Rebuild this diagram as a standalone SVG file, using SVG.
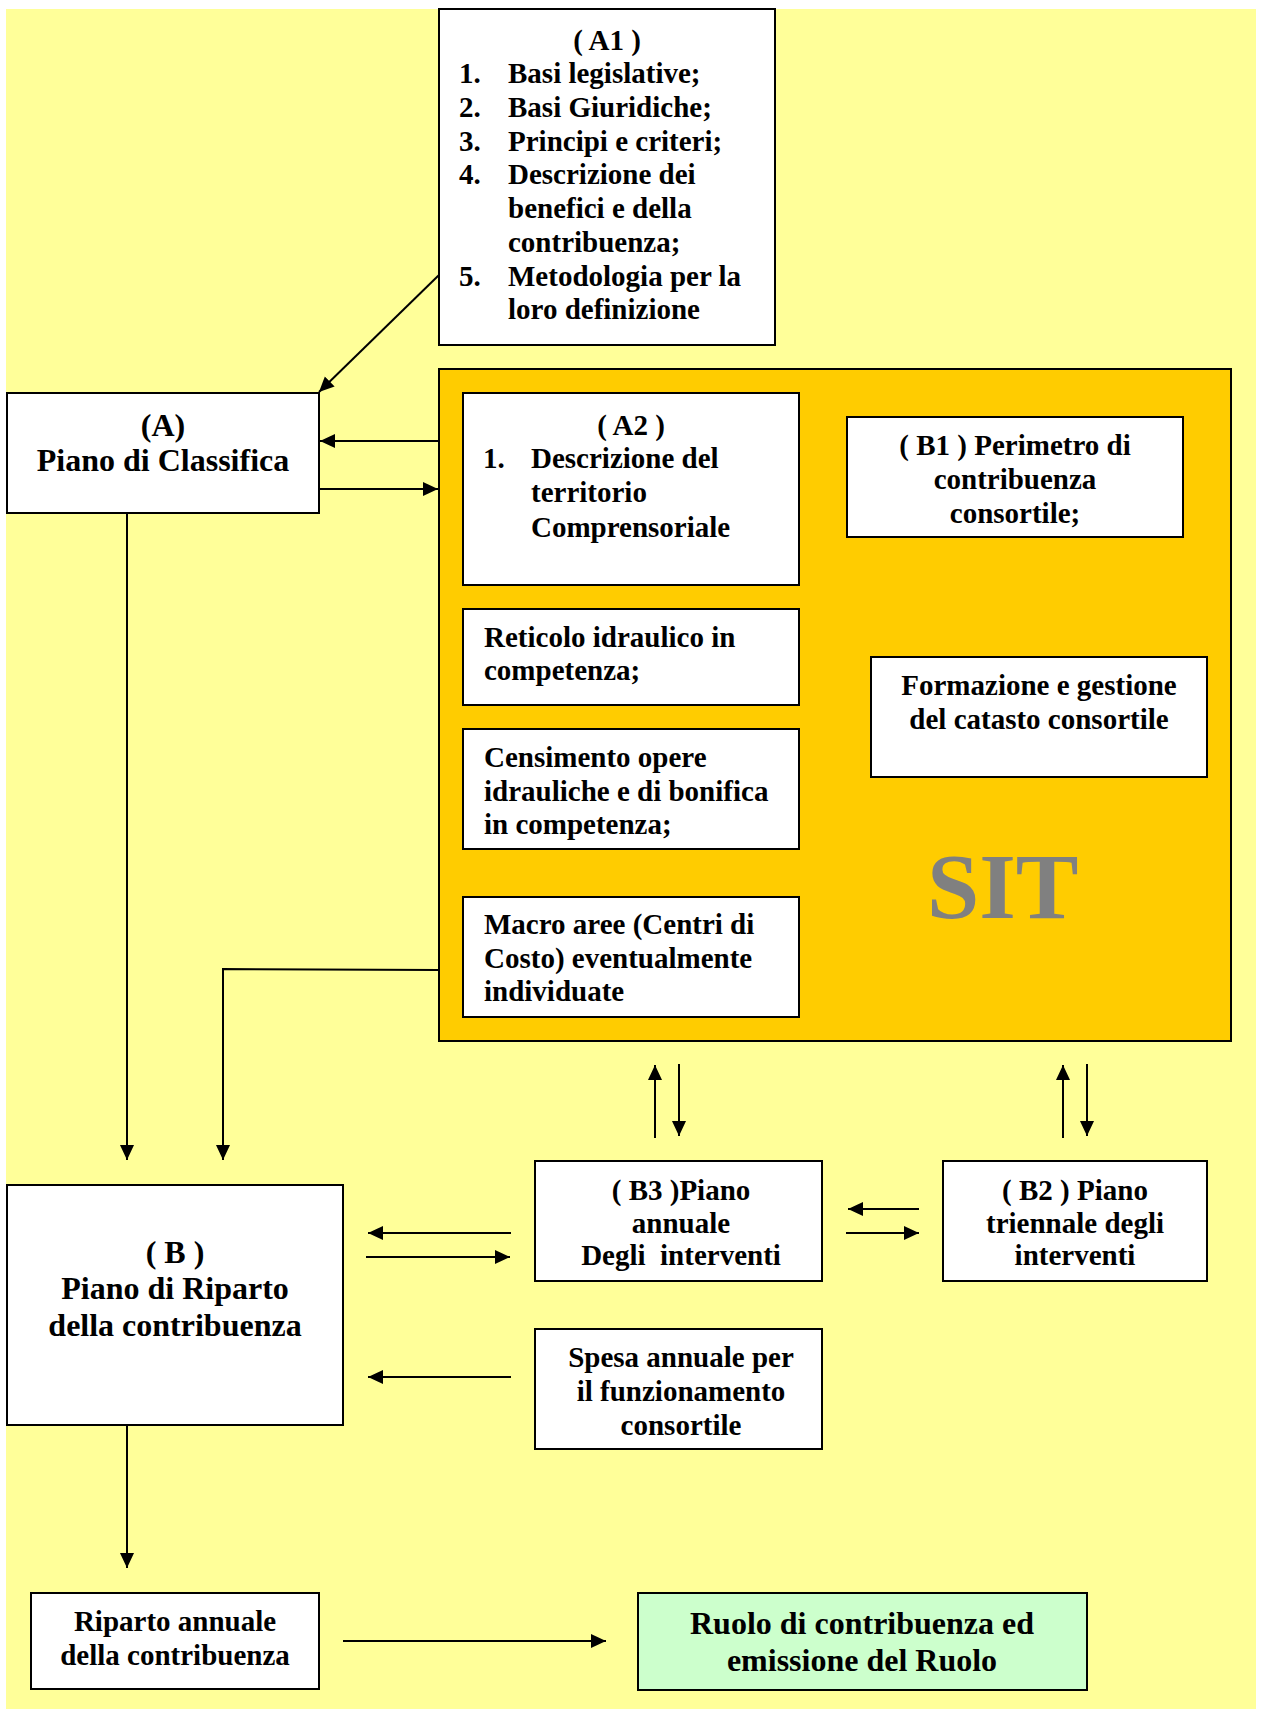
<svg xmlns="http://www.w3.org/2000/svg" width="1263" height="1709" viewBox="0 0 1263 1709">
<defs>
<marker id="ah" markerUnits="userSpaceOnUse" markerWidth="15" markerHeight="15" refX="15" refY="7" orient="auto">
<path d="M0,0 L15,7 L0,14 z" fill="#000"/>
</marker>
<style>
.box{fill:#fff;stroke:#000;stroke-width:2}
.t{font-family:"Liberation Serif","Times New Roman",serif;font-weight:bold;font-size:29px;fill:#000}
.tl{font-family:"Liberation Serif","Times New Roman",serif;font-weight:bold;font-size:32px;fill:#000}
.c{text-anchor:middle}
.ln{fill:none;stroke:#000;stroke-width:2;marker-end:url(#ah)}
</style>
</defs>
<rect x="6" y="9" width="1250" height="1700" fill="#FFFF99"/>

<g id="sit">
<rect x="439" y="369" width="792" height="672" fill="#FFCC00" stroke="#000" stroke-width="2"/>
<text x="927" y="918" font-family="Liberation Serif, Times New Roman, serif" font-weight="bold" font-size="94" fill="#808080">SIT</text>
</g>

<g id="a1">
<rect class="box" x="439" y="9" width="336" height="336"/>
<text class="t c" x="607" y="50">( A1 )</text>
<text class="t" x="459" y="83">1.</text><text class="t" x="508" y="83">Basi legislative;</text>
<text class="t" x="459" y="117">2.</text><text class="t" x="508" y="117">Basi Giuridiche;</text>
<text class="t" x="459" y="151">3.</text><text class="t" x="508" y="151">Principi e criteri;</text>
<text class="t" x="459" y="184">4.</text><text class="t" x="508" y="184">Descrizione dei</text>
<text class="t" x="508" y="218">benefici e della</text>
<text class="t" x="508" y="252">contribuenza;</text>
<text class="t" x="459" y="286">5.</text><text class="t" x="508" y="286">Metodologia per la</text>
<text class="t" x="508" y="319">loro definizione</text>
</g>

<g id="a">
<rect class="box" x="7" y="393" width="312" height="120"/>
<text class="tl c" x="163" y="436">(A)</text>
<text class="tl c" x="163" y="471">Piano di Classifica</text>
</g>

<g id="a2">
<rect class="box" x="463" y="393" width="336" height="192"/>
<text class="t c" x="631" y="435">( A2 )</text>
<text class="t" x="483" y="468">1.</text><text class="t" x="531" y="468">Descrizione del</text>
<text class="t" x="531" y="502">territorio</text>
<text class="t" x="531" y="537">Comprensoriale</text>
</g>

<g id="b1">
<rect class="box" x="847" y="417" width="336" height="120"/>
<text class="t c" x="1015" y="455">( B1 ) Perimetro di</text>
<text class="t c" x="1015" y="489">contribuenza</text>
<text class="t c" x="1015" y="523">consortile;</text>
</g>

<g id="reticolo">
<rect class="box" x="463" y="609" width="336" height="96"/>
<text class="t" x="484" y="647">Reticolo idraulico in</text>
<text class="t" x="484" y="680">competenza;</text>
</g>

<g id="formazione">
<rect class="box" x="871" y="657" width="336" height="120"/>
<text class="t c" x="1039" y="695">Formazione e gestione</text>
<text class="t c" x="1039" y="729">del catasto consortile</text>
</g>

<g id="censimento">
<rect class="box" x="463" y="729" width="336" height="120"/>
<text class="t" x="484" y="767">Censimento opere</text>
<text class="t" x="484" y="801">idrauliche e di bonifica</text>
<text class="t" x="484" y="834">in competenza;</text>
</g>

<g id="macro">
<rect class="box" x="463" y="897" width="336" height="120"/>
<text class="t" x="484" y="934">Macro aree (Centri di</text>
<text class="t" x="484" y="968">Costo) eventualmente</text>
<text class="t" x="484" y="1001">individuate</text>
</g>

<g id="b">
<rect class="box" x="7" y="1185" width="336" height="240"/>
<text class="tl c" x="175" y="1263">( B )</text>
<text class="tl c" x="175" y="1299">Piano di Riparto</text>
<text class="tl c" x="175" y="1336">della contribuenza</text>
</g>

<g id="b3">
<rect class="box" x="535" y="1161" width="287" height="120"/>
<text class="t c" x="681" y="1200">( B3 )Piano</text>
<text class="t c" x="681" y="1233">annuale</text>
<text class="t c" x="681" y="1265" xml:space="preserve">Degli  interventi</text>
</g>

<g id="b2">
<rect class="box" x="943" y="1161" width="264" height="120"/>
<text class="t c" x="1075" y="1200">( B2 ) Piano</text>
<text class="t c" x="1075" y="1233">triennale degli</text>
<text class="t c" x="1075" y="1265">interventi</text>
</g>

<g id="spesa">
<rect class="box" x="535" y="1329" width="287" height="120"/>
<text class="t c" x="681" y="1367">Spesa annuale per</text>
<text class="t c" x="681" y="1401">il funzionamento</text>
<text class="t c" x="681" y="1435">consortile</text>
</g>

<g id="riparto">
<rect class="box" x="31" y="1593" width="288" height="96"/>
<text class="t c" x="175" y="1631">Riparto annuale</text>
<text class="t c" x="175" y="1665">della contribuenza</text>
</g>

<g id="ruolo">
<rect x="638" y="1593" width="449" height="97" fill="#CCFFCC" stroke="#000" stroke-width="2"/>
<text class="tl c" x="862" y="1634">Ruolo di contribuenza ed</text>
<text class="tl c" x="862" y="1671">emissione del Ruolo</text>
</g>

<g id="connectors">
<path class="ln" d="M439,275 L319,392"/>
<path class="ln" d="M439,441 L320,441"/>
<path class="ln" d="M319,489 L438,489"/>
<path class="ln" d="M127,513 L127,1160"/>
<path class="ln" d="M439,970 L223,969 L223,1160"/>
<path class="ln" d="M655,1138 L655,1065"/>
<path class="ln" d="M679,1064 L679,1136"/>
<path class="ln" d="M1063,1138 L1063,1065"/>
<path class="ln" d="M1087,1064 L1087,1136"/>
<path class="ln" d="M511,1233 L368,1233"/>
<path class="ln" d="M366,1257 L510,1257"/>
<path class="ln" d="M919,1209 L848,1209"/>
<path class="ln" d="M846,1233 L919,1233"/>
<path class="ln" d="M511,1377 L368,1377"/>
<path class="ln" d="M127,1425 L127,1568"/>
<path class="ln" d="M343,1641 L606,1641"/>
</g>
</svg>
